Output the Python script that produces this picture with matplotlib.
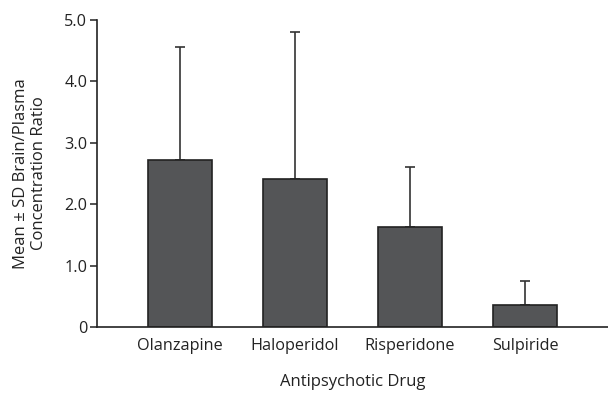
import matplotlib.pyplot as plt

plt.rcParams['font.family'] = ['Open Sans', 'DejaVu Sans']

# Brain/plasma concentration ratios (mean and SD)
drugs = ['Olanzapine', 'Haloperidol', 'Risperidone', 'Sulpiride']
means = [2.72, 2.41, 1.63, 0.36]
sds = [1.84, 2.39, 0.98, 0.39]

fig = plt.figure(figsize=(6.08, 3.94), dpi=100)
ax = fig.add_axes([0.1595, 0.170, 0.8405, 0.779])

x = range(len(drugs))
ax.bar(x, means, width=0.556, color='#545557', edgecolor='#222222', linewidth=1.2, zorder=2)
# upper error bars only
ax.errorbar(x, means, yerr=[[0] * len(sds), sds], fmt='none', ecolor='#333333',
            elinewidth=1.2, capsize=3.5, capthick=1.2, zorder=1)

ax.set_xlim(-0.72, 3.72)
ax.set_ylim(0, 5.0)
ax.set_yticks([0, 1, 2, 3, 4, 5])
ax.set_yticklabels(['0', '1.0', '2.0', '3.0', '4.0', '5.0'])
ax.set_xticks(list(x))
ax.set_xticklabels(drugs)

for s in ['top', 'right']:
    ax.spines[s].set_visible(False)
for s in ['left', 'bottom']:
    ax.spines[s].set_color('#222222')
    ax.spines[s].set_linewidth(1.2)
ax.tick_params(axis='x', length=0, pad=8, labelsize=11.7, colors='#222222')
ax.tick_params(axis='y', length=5, width=1.1, pad=2, labelsize=11.7, colors='#222222')

ax.set_ylabel('Mean \u00b1 SD Brain/Plasma\nConcentration Ratio', fontsize=12,
              color='#222222', labelpad=12, linespacing=1.2)
ax.set_xlabel('Antipsychotic Drug', fontsize=12, color='#222222', labelpad=14)

fig.savefig('out.png', dpi=100)
